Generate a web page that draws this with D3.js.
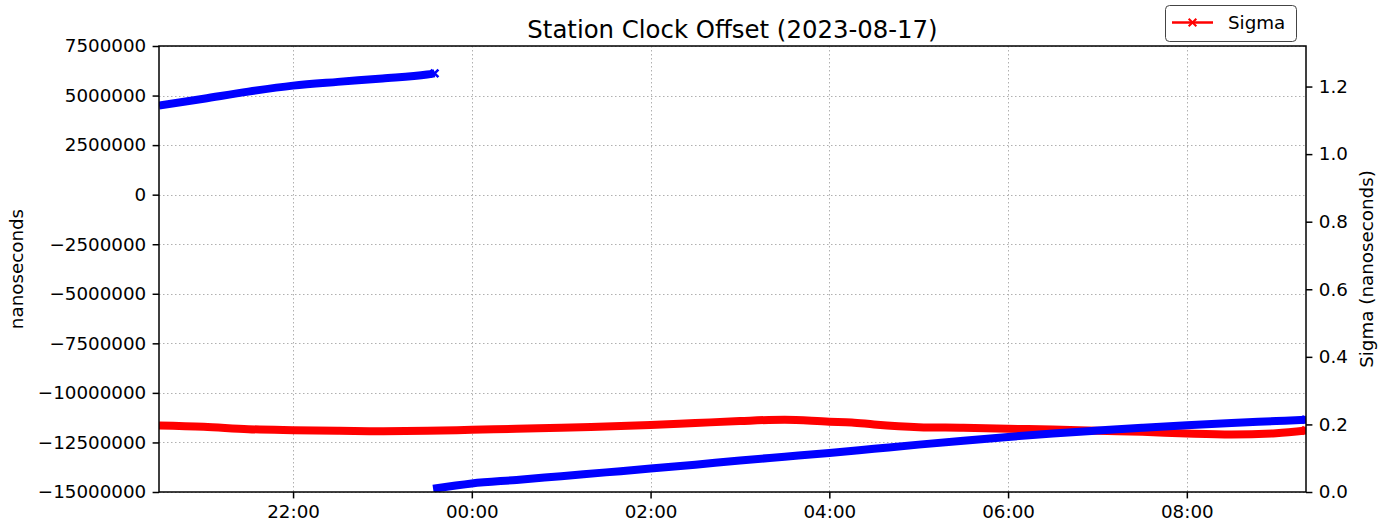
<!DOCTYPE html>
<html>
<head>
<meta charset="utf-8">
<script src="https://cdn.jsdelivr.net/npm/d3@7"></script>
<style>
  body { margin: 0; background: #fff; }
  text { font-family: "DejaVu Sans", sans-serif; fill: #000; }
</style>
</head>
<body>
<div id="chart"></div>
<script>
// clock offset, first run (before the reset)
const offsetTimesA = ['2023-08-16 20:30', '2023-08-16 21:00', '2023-08-16 21:30', '2023-08-16 22:00',
  '2023-08-16 22:30', '2023-08-16 23:00', '2023-08-16 23:30', '2023-08-16 23:35'];
const offsetValuesA = [4490000, 4840000, 5200000, 5500000, 5690000, 5860000, 6060000, 6120000];

// clock offset, second run (after the reset)
const offsetTimesB = ['2023-08-16 23:34', '2023-08-17 00:00', '2023-08-17 00:30', '2023-08-17 01:00',
  '2023-08-17 01:30', '2023-08-17 02:00', '2023-08-17 02:30', '2023-08-17 03:00', '2023-08-17 03:30',
  '2023-08-17 04:00', '2023-08-17 04:30', '2023-08-17 05:00', '2023-08-17 05:30', '2023-08-17 06:00',
  '2023-08-17 06:30', '2023-08-17 07:00', '2023-08-17 07:30', '2023-08-17 08:00', '2023-08-17 08:30',
  '2023-08-17 09:00', '2023-08-17 09:20'];
const offsetValuesB = [-14840000, -14570000, -14390000, -14200000, -14010000, -13820000, -13620000,
  -13410000, -13220000, -13030000, -12820000, -12610000, -12410000, -12220000, -12050000, -11900000,
  -11760000, -11630000, -11520000, -11420000, -11350000];

// sigma (right axis)
const sigmaTimes = ['2023-08-16 20:30', '2023-08-16 21:00', '2023-08-16 21:30', '2023-08-16 22:00',
  '2023-08-16 22:30', '2023-08-16 23:00', '2023-08-16 23:30', '2023-08-17 00:00', '2023-08-17 00:30',
  '2023-08-17 01:00', '2023-08-17 01:30', '2023-08-17 02:00', '2023-08-17 02:30', '2023-08-17 03:00',
  '2023-08-17 03:30', '2023-08-17 04:00', '2023-08-17 04:15', '2023-08-17 04:30', '2023-08-17 05:00',
  '2023-08-17 05:30', '2023-08-17 06:00', '2023-08-17 06:30', '2023-08-17 07:00', '2023-08-17 07:30',
  '2023-08-17 08:00', '2023-08-17 08:30', '2023-08-17 09:00', '2023-08-17 09:20'];
const sigmaValues = [0.197, 0.193, 0.186, 0.183, 0.181, 0.180, 0.181, 0.184, 0.187, 0.190, 0.194,
  0.198, 0.204, 0.210, 0.214, 0.208, 0.206, 0.200, 0.192, 0.190, 0.187, 0.185, 0.181, 0.178, 0.173,
  0.170, 0.174, 0.182];

const leftTicks = [-15000000, -12500000, -10000000, -7500000, -5000000, -2500000, 0, 2500000, 5000000, 7500000];
const rightTicks = [0.0, 0.2, 0.4, 0.6, 0.8, 1.0, 1.2];

const width = 1388, height = 529;
const plot = { left: 159, right: 1306, top: 46, bottom: 492 };
const fs = 18.3;

const parse = d3.timeParse('%Y-%m-%d %H:%M');
const zip = (ts, vs) => ts.map((t, i) => ({ t: parse(t), v: vs[i] }));
const offA = zip(offsetTimesA, offsetValuesA);
const offB = zip(offsetTimesB, offsetValuesB);
const sigma = zip(sigmaTimes, sigmaValues);

const svg = d3.select('#chart').append('svg')
  .attr('width', width)
  .attr('height', height);

const x = d3.scaleTime()
  .domain(d3.extent(offA.concat(offB, sigma), d => d.t))
  .range([plot.left, plot.right]);
const yL = d3.scaleLinear().domain([-15000000, 7500000]).range([plot.bottom, plot.top]);
const yR = d3.scaleLinear().domain([0, 1.32]).range([plot.bottom, plot.top]);

const xTicks = d3.timeHour.every(2).range(x.domain()[0], x.domain()[1]);

// grid
const grid = svg.append('g')
  .attr('stroke', '#b0b0b0')
  .attr('stroke-width', 1)
  .attr('stroke-dasharray', '1.5,2.5');
grid.selectAll('.gx').data(xTicks).enter().append('line')
  .attr('x1', d => Math.round(x(d)) + 0.5).attr('x2', d => Math.round(x(d)) + 0.5)
  .attr('y1', plot.top).attr('y2', plot.bottom);
grid.selectAll('.gy').data(leftTicks).enter().append('line')
  .attr('x1', plot.left).attr('x2', plot.right)
  .attr('y1', d => Math.round(yL(d)) + 0.5).attr('y2', d => Math.round(yL(d)) + 0.5);

// series
svg.append('clipPath').attr('id', 'clip').append('rect')
  .attr('x', plot.left).attr('y', plot.top)
  .attr('width', plot.right - plot.left).attr('height', plot.bottom - plot.top);
const series = svg.append('g').attr('clip-path', 'url(#clip)');

const lineL = d3.line().x(d => x(d.t)).y(d => yL(d.v)).curve(d3.curveMonotoneX);
const lineR = d3.line().x(d => x(d.t)).y(d => yR(d.v)).curve(d3.curveMonotoneX);
const xMark = d3.symbol().type(d3.symbolX).size(40);

// dense x markers in the original merge into a thick band
function drawSeries(data, line, y, color) {
  series.append('path')
    .datum(data)
    .attr('d', line)
    .attr('fill', 'none')
    .attr('stroke', color)
    .attr('stroke-width', 8)
    .attr('stroke-linejoin', 'round');
  const last = data[data.length - 1];
  series.append('path')
    .attr('d', xMark)
    .attr('transform', 'translate(' + x(last.t) + ',' + y(last.v) + ')')
    .attr('fill', 'none')
    .attr('stroke', color)
    .attr('stroke-width', 2.5);
}

drawSeries(sigma, lineR, yR, '#ff0000');
drawSeries(offA, lineL, yL, '#0000ff');
drawSeries(offB, lineL, yL, '#0000ff');

// frame
svg.append('rect')
  .attr('x', plot.left).attr('y', plot.top)
  .attr('width', plot.right - plot.left).attr('height', plot.bottom - plot.top)
  .attr('fill', 'none').attr('stroke', '#000').attr('stroke-width', 1.5);

// axes
function styleAxis(g) {
  g.select('.domain').remove();
  g.selectAll('.tick line').attr('stroke', '#000').attr('stroke-width', 1.5);
  g.selectAll('.tick text').attr('font-size', fs).attr('fill', '#000')
    .attr('font-family', '"DejaVu Sans", sans-serif');
}

svg.append('g')
  .attr('transform', 'translate(0,' + plot.bottom + ')')
  .call(d3.axisBottom(x).tickValues(xTicks).tickFormat(d3.timeFormat('%H:%M'))
    .tickSize(6.4).tickPadding(6.4))
  .call(styleAxis);

svg.append('g')
  .attr('transform', 'translate(' + plot.left + ',0)')
  .call(d3.axisLeft(yL).tickValues(leftTicks).tickFormat(d3.format('d'))
    .tickSize(6.4).tickPadding(6.4))
  .call(styleAxis);

svg.append('g')
  .attr('transform', 'translate(' + plot.right + ',0)')
  .call(d3.axisRight(yR).tickValues(rightTicks).tickFormat(d3.format('.1f'))
    .tickSize(6.4).tickPadding(6.4))
  .call(styleAxis);

// labels
svg.append('text')
  .attr('x', (plot.left + plot.right) / 2).attr('y', 38)
  .attr('text-anchor', 'middle')
  .attr('font-size', 24.4)
  .text('Station Clock Offset (2023-08-17)');

svg.append('text')
  .attr('transform', 'translate(16,' + (plot.top + plot.bottom) / 2 + ') rotate(-90)')
  .attr('text-anchor', 'middle')
  .attr('dominant-baseline', 'central')
  .attr('font-size', fs)
  .text('nanoseconds');

svg.append('text')
  .attr('transform', 'translate(1366,' + (plot.top + plot.bottom) / 2 + ') rotate(-90)')
  .attr('text-anchor', 'middle')
  .attr('dominant-baseline', 'central')
  .attr('font-size', fs)
  .text('Sigma (nanoseconds)');

// legend
const legend = svg.append('g');
legend.append('rect')
  .attr('x', 1165.5).attr('y', 5.5)
  .attr('width', 131).attr('height', 36)
  .attr('rx', 4)
  .attr('fill', '#fff').attr('stroke', '#444').attr('stroke-width', 1);
legend.append('line')
  .attr('x1', 1172).attr('x2', 1213).attr('y1', 22.5).attr('y2', 22.5)
  .attr('stroke', '#ff0000').attr('stroke-width', 2.5);
legend.append('path')
  .attr('d', xMark)
  .attr('transform', 'translate(1192.5,22.5)')
  .attr('fill', 'none').attr('stroke', '#ff0000').attr('stroke-width', 2);
legend.append('text')
  .attr('x', 1228).attr('y', 29)
  .attr('font-size', fs)
  .text('Sigma');
</script>
</body>
</html>
